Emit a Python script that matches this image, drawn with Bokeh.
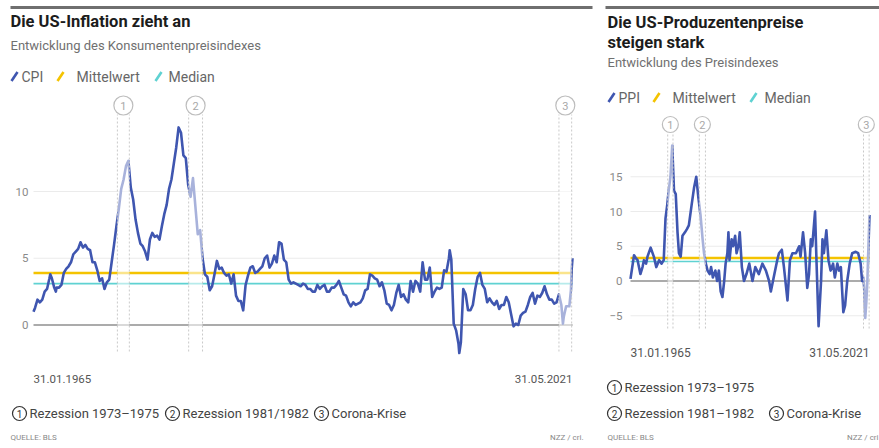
from bokeh.plotting import figure
from bokeh.layouts import row
from bokeh.models import Range1d, ColumnDataSource
from bokeh.core.properties import value
from bokeh.embed import file_html
from bokeh.resources import INLINE
import pandas as pd

FONT = "Roboto"

# ---------------- data ----------------
cpi_years = list(range(1965, 2021))
# CPI y/y in % at end of Mar, Jun, Sep, Dec of each year
cpi_quarterly = [
    1.3, 1.9, 1.7, 1.9,   2.5, 2.7, 3.5, 3.5,   2.8, 2.8, 2.8, 3.0,   3.9, 4.2, 4.4, 4.7,
    5.3, 5.5, 5.7, 6.2,   5.8, 6.0, 5.7, 5.6,   4.7, 4.7, 4.1, 3.3,   3.5, 2.7, 3.2, 3.4,
    4.7, 6.0, 7.4, 8.7,   10.2, 10.9, 11.9, 12.3, 10.3, 9.4, 7.9, 6.9, 6.1, 5.9, 5.5, 4.9,
    6.4, 6.9, 6.6, 6.7,   6.4, 7.4, 8.3, 9.0,   10.2, 10.9, 12.1, 13.3, 14.8, 14.4, 12.7, 12.5,
    10.5, 9.6, 11.0, 8.9, 6.8, 7.1, 5.0, 3.8,   3.6, 2.6, 2.9, 3.8,   4.8, 4.2, 4.3, 3.9,
    3.7, 3.8, 3.1, 3.8,   2.2, 1.8, 1.8, 1.1,   3.0, 3.7, 4.3, 4.4,   3.9, 4.0, 4.2, 4.4,
    5.0, 5.2, 4.3, 4.6,   5.2, 4.7, 6.2, 6.1,   4.9, 4.7, 3.4, 3.1,   3.2, 3.1, 3.0, 2.9,
    3.1, 3.0, 2.7, 2.7,   2.5, 2.5, 3.0, 2.7,   2.9, 3.0, 2.5, 2.5,   2.8, 2.8, 3.0, 3.3,
    2.8, 2.3, 2.2, 1.7,   1.4, 1.7, 1.5, 1.6,   1.7, 2.0, 2.6, 2.7,   3.8, 3.7, 3.5, 3.4,
    2.9, 3.2, 2.6, 1.6,   1.5, 1.1, 1.5, 2.4,   3.0, 2.1, 2.3, 1.9,   1.7, 3.3, 2.5, 3.3,
    3.1, 2.5, 4.7, 3.4,   3.4, 4.3, 2.1, 2.5,   2.8, 2.7, 2.8, 4.1,   4.0, 5.0, 4.9, 0.1,
    -0.4, -1.4, -1.3, 2.7, 2.3, 1.1, 1.1, 1.5,  2.7, 3.6, 3.9, 3.0,   2.7, 1.7, 2.0, 1.7,
    1.5, 1.8, 1.2, 1.5,   1.5, 2.1, 1.7, 0.8,   -0.1, 0.1, 0.0, 0.7,  0.9, 1.0, 1.5, 2.1,
    2.4, 1.6, 2.2, 2.1,   2.4, 2.9, 2.3, 1.9,   1.9, 1.6, 1.7, 2.3,   1.5, 0.6, 1.4, 1.4,
]
cpi_extra_months = ["1965-01", "1966-10", "1967-05", "2008-07", "2009-07", "2020-05",
                    "2021-01", "2021-03", "2021-04", "2021-05"]
cpi_extra_values = [1.0, 3.8, 2.5, 5.6, -2.1, 0.1, 1.4, 2.6, 4.2, 5.0]
cpi_mean, cpi_median = 3.9, 3.1

ppi_months = [
    "1965-01", "1965-11", "1966-04", "1966-09", "1967-05", "1967-11", "1968-03", "1968-09", "1969-01", "1969-10",
    "1970-07", "1971-02", "1971-10", "1972-05", "1972-11", "1973-04", "1973-09", "1974-01", "1974-06", "1974-11",
    "1975-04", "1975-09", "1976-02", "1976-06", "1976-11", "1977-04", "1977-11", "1978-05", "1978-10", "1979-06",
    "1980-01", "1980-07", "1981-01", "1981-07", "1982-01", "1982-05", "1982-10", "1983-03", "1983-09", "1984-01",
    "1984-06", "1985-01", "1985-06", "1985-11", "1986-04", "1986-09", "1987-02", "1987-06", "1987-11", "1988-02",
    "1988-05", "1988-11", "1989-03", "1989-09", "1990-01", "1990-06", "1990-10", "1991-04", "1991-10", "1992-05",
    "1993-01", "1993-10", "1994-06", "1995-04", "1996-02", "1996-12", "1997-09", "1998-02", "1998-12", "1999-08",
    "2000-01", "2000-09", "2001-03", "2002-01", "2002-08", "2003-03", "2004-01", "2004-10", "2005-02", "2005-09",
    "2006-03", "2006-09", "2007-02", "2007-07", "2007-11", "2008-07", "2008-11", "2009-05", "2009-12", "2010-04",
    "2010-08", "2011-03", "2011-09", "2012-03", "2012-10", "2013-03", "2013-10", "2014-03", "2014-08", "2015-03",
    "2015-08", "2016-02", "2016-09", "2017-04", "2018-02", "2018-09", "2019-04", "2019-08", "2019-12", "2020-02",
    "2020-05", "2020-08", "2020-11", "2021-02", "2021-05",
]
ppi_values = [
    0.3, 3.7, 3.3, 3.0, 1.0, 2.0, 3.0, 2.5, 3.5, 4.8,
    3.5, 2.0, 3.0, 2.5, 3.0, 9.0, 11.0, 13.0, 15.0, 19.5,
    13.0, 12.5, 7.0, 4.0, 3.5, 6.5, 7.0, 7.5, 8.0, 11.0,
    13.5, 15.0, 12.0, 9.5, 6.0, 4.0, 2.5, 1.5, 1.0, 2.0,
    0.5, 1.5, 0.0, 1.5, -1.5, -2.3, 0.0, 2.5, 4.0, 7.0,
    3.0, 6.0, 5.0, 6.5, 4.0, 5.0, 7.0, 2.0, 0.0, 1.0,
    2.5, 0.0, 2.0, 1.0, 2.5, 1.5, 0.0, -1.5, 1.0, 3.0,
    4.0, 4.5, 2.0, -2.8, 3.0, 4.0, 4.0, 5.0, 3.5, 7.0,
    4.0, -1.0, 1.0, 6.0, 5.0, 10.0, 3.0, -6.5, 0.0, 6.0,
    4.0, 7.3, 3.0, 1.5, 2.5, 0.5, 2.5, 1.5, 2.0, -4.5,
    -3.5, 0.0, 2.5, 4.0, 4.2, 4.0, 2.5, 0.0, 0.5, -1.0,
    -5.3, -3.0, 0.0, 5.0, 9.5,
]
ppi_mean, ppi_median = 3.3, 2.8

rec_start = [1973.85, 1981.3, 2020.0]
rec_end = [1975.1, 1982.75, 2021.33]
rec_label = ["1", "2", "3"]

cpi_ticks = [0, 5, 10]
cpi_grid = [5, 10]
ppi_ticks = [-5, 0, 5, 10, 15]
ppi_grid = [-5, 5, 10, 15]

# ---------------- helpers ----------------
def month_x(s):
    y, m = s.split("-")
    return int(y) + int(m) / 12.0


def month_label(s):
    ts = pd.Timestamp(s + "-01") + pd.offsets.MonthEnd(0)
    return ts.strftime("%d.%m.%Y")


cpi_q_months = [f"{y}-{m:02d}" for y in cpi_years for m in (3, 6, 9, 12)]
cpi_pairs = sorted(zip(cpi_q_months + cpi_extra_months, cpi_quarterly + cpi_extra_values),
                   key=lambda t: month_x(t[0]))
cpi_months = [m for m, _ in cpi_pairs]
cpi_values = [v for _, v in cpi_pairs]

BLUE = "#3f56b0"
YELLOW = "#f4c300"
CYAN = "#5fd2d2"
GRID = "#ebebeb"


class Chart:
    def __init__(self, W, H, page_x0, data_px0, data_px1, zero_py, ppu, months, values):
        self.xs = [month_x(m) for m in months]
        self.months = months
        self.values = values
        self.page_x0 = page_x0
        self.ppx = (data_px1 - data_px0) / (self.xs[-1] - self.xs[0])
        self.x_start = self.xs[0] - (data_px0 - page_x0) / self.ppx
        self.ppu = ppu
        self.y_top = zero_py / ppu
        y_bot = -(H - zero_py) / ppu
        p = figure(width=W, height=H, x_range=Range1d(self.x_start, self.x_start + W / self.ppx),
                   y_range=Range1d(y_bot, self.y_top), min_border=0,
                   x_axis_location=None, y_axis_location=None,
                   output_backend="svg", toolbar_location=None)
        p.grid.visible = False
        p.outline_line_color = None
        p.background_fill_color = "white"
        p.border_fill_color = "white"
        self.p = p

    # pixel -> data (layout decoration only)
    def X(self, px):
        return self.x_start + (px - self.page_x0) / self.ppx

    def Y(self, py):
        return self.y_top - py / self.ppu

    def text(self, px, py, s, size, color, bold=False, align="left"):
        self.p.text(x=[self.X(px)], y=[self.Y(py)], text=[s], text_font=value(FONT),
                    text_font_size=f"{size}px", text_color=color,
                    text_font_style="bold" if bold else "normal",
                    text_align=align, text_baseline="middle")

    def draw(self, ticks, grid, mean, median, band_py0, band_py1, circ_py, circ_size, tick_gap):
        p, xs = self.p, self.xs
        x0, x1 = xs[0], xs[-1]
        n = len(grid)
        p.segment(x0=[x0] * n, x1=[x1] * n, y0=grid, y1=grid, line_color=GRID, line_width=1)
        p.segment(x0=[x0], x1=[x1], y0=[0], y1=[0], line_color="#8f8f8f", line_width=1.6)
        p.segment(x0=[x0], x1=[x1], y0=[mean], y1=[mean], line_color=YELLOW, line_width=2.6)
        p.segment(x0=[x0], x1=[x1], y0=[median], y1=[median], line_color=CYAN, line_width=1.6)
        p.line(xs, self.values, line_color=BLUE, line_width=2.6, line_join="round")

        # y tick labels placed through the y scale
        tick_text = [(f"\u2212{abs(t)}" if t < 0 else str(t)) for t in ticks]
        p.text(x=[x0] * len(ticks), y=ticks, text=tick_text, x_offset=-tick_gap,
               text_font=value(FONT), text_font_size="11.5px", text_color="#8a8a8a",
               text_align="right", text_baseline="middle")

        # recession bands
        bt, bb = self.Y(band_py0), self.Y(band_py1)
        cy = self.Y(circ_py)
        src = ColumnDataSource(dict(l=rec_start, r=rec_end,
                                    m=[(a + b) / 2 for a, b in zip(rec_start, rec_end)],
                                    lab=rec_label))
        q = p.quad(left="l", right="r", bottom=bb, top=bt, source=src,
                   fill_color="white", fill_alpha=0.55, line_color=None)
        q.level = "overlay"
        for col in ("l", "r"):
            s = p.segment(x0=col, x1=col, y0=bb, y1=bt, source=src,
                          line_color="#c9c9c9", line_width=1, line_dash="2 2")
            s.level = "overlay"
        c = p.scatter(x="m", y=cy, source=src, marker="circle", size=circ_size,
                      fill_color="white", line_color="#bdbdbd", line_width=1.2)
        c.level = "overlay"
        t = p.text(x="m", y=cy, text="lab", source=src, text_font=value(FONT),
                   text_font_size="11px", text_color="#a8a8a8", text_align="center",
                   text_baseline="middle")
        t.level = "overlay"

    def dates(self, py, size):
        dy = self.Y(py)
        self.p.text(x=[self.xs[0]], y=[dy], text=[month_label(self.months[0])], text_align="left",
                    text_font=value(FONT), text_font_size=f"{size}px", text_color="#555555",
                    text_baseline="middle")
        self.p.text(x=[self.xs[-1]], y=[dy], text=[month_label(self.months[-1])], text_align="right",
                    text_font=value(FONT), text_font_size=f"{size}px", text_color="#555555",
                    text_baseline="middle")

    def rule(self, px0, px1, py):
        self.p.segment(x0=[self.X(px0)], x1=[self.X(px1)], y0=[self.Y(py)], y1=[self.Y(py)],
                       line_color="#6f6f6f", line_width=3)

    def slash(self, px, py, color):
        self.p.segment(x0=[self.X(px)], x1=[self.X(px + 6)], y0=[self.Y(py + 4.5)],
                       y1=[self.Y(py - 4.5)], line_color=color, line_width=2.6)

    def circled(self, px, py, num):
        self.p.scatter(x=[self.X(px)], y=[self.Y(py)], marker="circle", size=14,
                       fill_color="white", line_color="#333333", line_width=1.2)
        self.p.text(x=[self.X(px)], y=[self.Y(py)], text=[num], text_font=value(FONT),
                    text_font_size="10px", text_color="#333333", text_align="center",
                    text_baseline="middle")


# ---------------- left chart: CPI ----------------
L = Chart(598, 448, 0, 33, 572, 324.5, 13.35, cpi_months, cpi_values)
L.draw(cpi_ticks, cpi_grid, cpi_mean, cpi_median, 114, 351, 105, 19, 5)
L.dates(378, 11.5)
L.rule(10, 592, 7)
L.text(10, 21, "Die US-Inflation zieht an", 16.5, "#1c1c1c", bold=True)
L.text(10, 45, "Entwicklung des Konsumentenpreisindexes", 13, "#707070")
L.slash(11, 76, BLUE)
L.text(21, 76, "CPI", 14, "#666666")
L.slash(57, 76, YELLOW)
L.text(76, 76, "Mittelwert", 14, "#666666")
L.slash(155, 76, CYAN)
L.text(168, 76, "Median", 14, "#666666")
L.circled(19, 413, "1")
L.text(29, 413, "Rezession 1973\u20131975", 13, "#444444")
L.circled(172, 413, "2")
L.text(182, 413, "Rezession 1981/1982", 13, "#444444")
L.circled(321, 413, "3")
L.text(331, 413, "Corona-Krise", 13, "#444444")
L.text(10, 437, "QUELLE: BLS", 8, "#888888")
L.text(583, 437, "NZZ / cri.", 8, "#888888", align="right")

# ---------------- right chart: PPI ----------------
R = Chart(281, 448, 598, 630, 869, 280.5, 6.95, ppi_months, ppi_values)
R.draw(ppi_ticks, ppi_grid, ppi_mean, ppi_median, 132, 328, 124, 16, 8)
R.dates(352, 12)
R.rule(605, 879, 7)
R.text(607, 22, "Die US-Produzentenpreise", 16.5, "#1c1c1c", bold=True)
R.text(607, 42, "steigen stark", 16.5, "#1c1c1c", bold=True)
R.text(607, 62, "Entwicklung des Preisindexes", 13, "#707070")
R.slash(608, 97, BLUE)
R.text(618, 97, "PPI", 14, "#666666")
R.slash(653, 97, YELLOW)
R.text(672, 97, "Mittelwert", 14, "#666666")
R.slash(750, 97, CYAN)
R.text(764, 97, "Median", 14, "#666666")
R.circled(614, 387, "1")
R.text(624, 387, "Rezession 1973\u20131975", 13, "#444444")
R.circled(614, 413, "2")
R.text(624, 413, "Rezession 1981\u20131982", 13, "#444444")
R.circled(776, 413, "3")
R.text(786, 413, "Corona-Krise", 13, "#444444")
R.text(607, 437, "QUELLE: BLS", 8, "#888888")
R.text(878, 437, "NZZ / cri", 8, "#888888", align="right")

layout = row(L.p, R.p, spacing=0)
open("out.html", "w").write(file_html(layout, INLINE))
